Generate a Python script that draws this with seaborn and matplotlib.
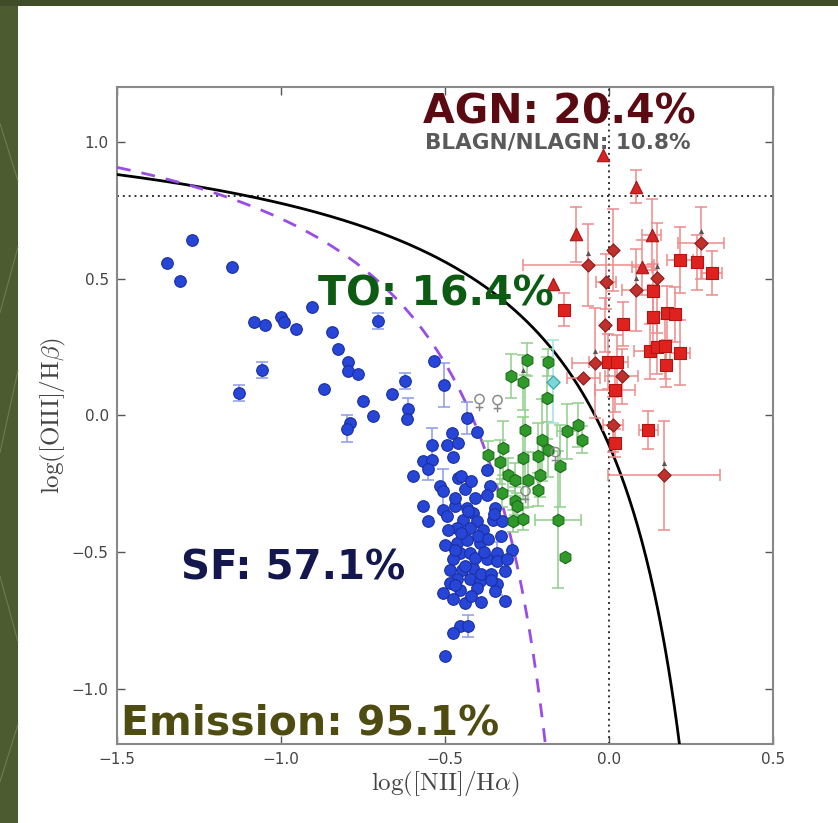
import numpy as np
import pandas as pd
import matplotlib
matplotlib.use("Agg")
import matplotlib.pyplot as plt
import seaborn as sns
from matplotlib.patches import Rectangle
from matplotlib.lines import Line2D

# ---------------- data ----------------
# star-forming galaxies
sf_x = [-1.348, -1.308, -1.271, -1.149, -1.082, -1.049, -1.000, -0.991, -0.954, -0.905,
        -1.058, -1.128, -0.869, -0.845, -0.826, -0.796, -0.796, -0.765, -0.750, -0.720,
        -0.704, -0.662, -0.622, -0.613, -0.616, -0.790, -0.799, -0.534, -0.503, -0.540,
        -0.494, -0.434, -0.403, -0.480, -0.459, -0.475, -0.566, -0.541, -0.551, -0.597,
        -0.459, -0.373, -0.515, -0.505, -0.363, -0.373, -0.566, -0.551, -0.505, -0.470,
        -0.434, -0.414, -0.495, -0.444, -0.403, -0.353, -0.464, -0.424, -0.383, -0.500,
        -0.464, -0.434, -0.393, -0.342, -0.297, -0.454, -0.424, -0.475, -0.373, -0.342,
        -0.312, -0.485, -0.449, -0.414, -0.317, -0.464, -0.424, -0.393, -0.485, -0.342,
        -0.454, -0.403, -0.505, -0.348, -0.475, -0.439, -0.317, -0.454, -0.429, -0.475,
        -0.500, -0.327, -0.348, -0.470, -0.440, -0.410, -0.490, -0.450, -0.400, -0.370,
        -0.470, -0.410, -0.380, -0.440, -0.390, -0.360, -0.470, -0.420, -0.390, -0.360,
        -0.430, -0.450, -0.420, -0.330, -0.350]
sf_y = [0.558, 0.493, 0.642, 0.543, 0.342, 0.331, 0.361, 0.342, 0.317, 0.397,
        0.167, 0.083, 0.098, 0.306, 0.244, 0.196, 0.164, 0.153, 0.054, -0.001,
        0.346, 0.080, 0.127, 0.025, -0.012, -0.026, -0.048, 0.200, 0.112, -0.107,
        -0.107, -0.009, -0.062, -0.064, -0.100, -0.151, -0.168, -0.161, -0.195, -0.222,
        -0.228, -0.200, -0.259, -0.277, -0.259, -0.289, -0.329, -0.386, -0.344, -0.332,
        -0.338, -0.356, -0.368, -0.380, -0.386, -0.380, -0.411, -0.411, -0.417, -0.472,
        -0.465, -0.453, -0.465, -0.502, -0.490, -0.502, -0.502, -0.526, -0.526, -0.532,
        -0.526, -0.563, -0.563, -0.557, -0.569, -0.599, -0.599, -0.605, -0.611, -0.617,
        -0.636, -0.630, -0.648, -0.642, -0.672, -0.684, -0.678, -0.770, -0.770, -0.794,
        -0.877, -0.386, -0.338, -0.300, -0.270, -0.300, -0.420, -0.430, -0.440, -0.450,
        -0.490, -0.520, -0.500, -0.550, -0.580, -0.580, -0.620, -0.660, -0.680, -0.600,
        -0.350, -0.220, -0.240, -0.440, -0.360]
sf_yerr = [0, 0, 0, 0, 0, 0, 0, 0, 0, 0,
           0.03, 0.03, 0, 0, 0, 0, 0, 0, 0, 0,
           0.03, 0, 0.03, 0.04, 0, 0, 0.05, 0, 0.08, 0.06,
           0, 0.06, 0, 0, 0, 0, 0, 0, 0.04, 0,
           0, 0, 0, 0.08, 0, 0, 0, 0, 0, 0,
           0, 0, 0, 0, 0, 0, 0, 0, 0, 0,
           0, 0, 0, 0.04, 0, 0, 0, 0, 0, 0,
           0, 0, 0, 0, 0, 0, 0, 0, 0, 0.04,
           0, 0, 0, 0, 0, 0, 0, 0, 0.04, 0,
           0, 0, 0, 0, 0, 0, 0, 0, 0, 0,
           0, 0, 0, 0, 0, 0, 0, 0, 0, 0,
           0, 0, 0, 0, 0]

# transition objects
to_x = [-0.249, -0.185, -0.299, -0.261, -0.190, -0.256, -0.129, -0.094, -0.083, -0.205,
        -0.322, -0.185, -0.368, -0.263, -0.217, -0.332, -0.149, -0.307, -0.287, -0.246,
        -0.210, -0.327, -0.216, -0.287, -0.281, -0.292, -0.261, -0.155, -0.134]
to_y = [0.204, 0.194, 0.143, 0.121, 0.064, -0.052, -0.058, -0.034, -0.088, -0.088,
        -0.119, -0.125, -0.143, -0.155, -0.149, -0.171, -0.186, -0.216, -0.234, -0.234,
        -0.216, -0.283, -0.271, -0.313, -0.332, -0.386, -0.378, -0.380, -0.516]
to_yerr = [0.06, 0.05, 0.08, 0.10, 0.15, 0.20, 0.10, 0.08, 0.05, 0.15,
           0.10, 0.10, 0.05, 0.15, 0.12, 0.08, 0.15, 0.06, 0.06, 0.10,
           0.08, 0.05, 0.06, 0.05, 0.05, 0.04, 0.04, 0.25, 0.0]
to_xerr = [0, 0, 0, 0, 0, 0, 0.03, 0, 0, 0,
           0, 0, 0, 0, 0, 0, 0, 0, 0, 0,
           0, 0, 0, 0, 0, 0, 0, 0.07, 0]

# composite object with uncertain class
cyan_x = [-0.170]
cyan_y = [0.124]
cyan_yerr = [0.15]

# upper-limit sources
lim_x = [-0.395, -0.342, -0.165, -0.256]
lim_y = [0.051, 0.046, -0.143, -0.285]

# AGN: triangles (broad-line), diamonds, squares
agn_tri_x = [-0.017, 0.081, -0.101, 0.130, 0.100, -0.172]
agn_tri_y = [0.952, 0.836, 0.662, 0.660, 0.541, 0.481]
agn_tri_yerr = [0.0, 0.06, 0.10, 0.13, 0.10, 0.0]
agn_tri_xerr = [0.0, 0.0, 0.0, 0.03, 0.03, 0.0]

agn_dia_x = [0.280, 0.013, -0.063, 0.145, -0.010, 0.081, -0.012, -0.043, -0.078, 0.013, 0.168, 0.039]
agn_dia_y = [0.630, 0.605, 0.550, 0.502, 0.489, 0.459, 0.331, 0.192, 0.137, -0.034, -0.219, 0.143]
agn_dia_yerr = [0.13, 0.15, 0.15, 0.20, 0.10, 0.15, 0.10, 0.20, 0.0, 0.10, 0.20, 0.10]
agn_dia_xerr = [0.07, 0.0, 0.20, 0.0, 0.03, 0.04, 0.0, 0.07, 0.05, 0.03, 0.17, 0.05]

agn_sq_x = [0.216, 0.313, -0.137, 0.044, 0.135, 0.176, 0.201, 0.125, 0.145, 0.171,
            0.216, 0.174, -0.002, 0.023, 0.018, 0.120, 0.018, 0.269, 0.135]
agn_sq_y = [0.569, 0.520, 0.386, 0.334, 0.358, 0.374, 0.370, 0.234, 0.252, 0.255,
            0.230, 0.185, 0.197, 0.195, 0.094, -0.052, -0.100, 0.560, 0.453]
agn_sq_yerr = [0.12, 0.08, 0.06, 0.08, 0.12, 0.10, 0.10, 0.10, 0.10, 0.12,
               0.12, 0.08, 0.10, 0.10, 0.08, 0.07, 0.05, 0.10, 0.10]
agn_sq_xerr = [0.04, 0.03, 0.0, 0.0, 0.0, 0.0, 0.0, 0.05, 0.0, 0.0,
               0.03, 0.0, 0.06, 0.0, 0.06, 0.03, 0.0, 0.0, 0.0]

# sources flagged with a lower limit
flag_x = [0.280, -0.063, 0.145, 0.081, -0.043, 0.168, -0.261]
flag_y = [0.630, 0.550, 0.502, 0.459, 0.192, -0.219, 0.121]

# demarcation curves (Kewley et al. 2001; Kauffmann et al. 2003)
kewley_coef = [0.61, 0.47, 1.19]
kauff_coef = [0.61, 0.05, 1.30]

labels = {
    "agn": "AGN: 20.4%",
    "blagn": "BLAGN/NLAGN: 10.8%",
    "to": "TO: 16.4%",
    "sf": "SF: 57.1%",
    "em": "Emission: 95.1%",
}

# ---------------- figure ----------------
sns.set_style("ticks")
plt.rcParams["font.family"] = ["DejaVu Sans"]
plt.rcParams["mathtext.fontset"] = "cm"

fig = plt.figure(figsize=(8.38, 8.23), dpi=100)
fig.patch.set_facecolor("white")

# slide border
fig.patches.append(Rectangle((0, 0), 18 / 838, 1, transform=fig.transFigure,
                             facecolor="#4c5b30", edgecolor="none", zorder=0))
fig.patches.append(Rectangle((0, 1 - 6 / 823), 1, 6 / 823, transform=fig.transFigure,
                             facecolor="#414d28", edgecolor="none", zorder=0))
for (y0, y1) in [(0.05, 0.12), (0.30, 0.22), (0.45, 0.55), (0.62, 0.70), (0.85, 0.78)]:
    fig.lines.append(Line2D([0, 18 / 838], [y0, y1], transform=fig.transFigure,
                            color="#7d8c5a", lw=0.8, alpha=0.7))

ax = fig.add_axes([117 / 838, 79 / 823, 656 / 838, 657 / 823])

# curves
xk = np.linspace(-1.5, 0.225, 400)
yk = kewley_coef[0] / (xk - kewley_coef[1]) + kewley_coef[2]
xa = np.linspace(-1.5, -0.185, 400)
ya = kauff_coef[0] / (xa - kauff_coef[1]) + kauff_coef[2]
sns.lineplot(x=xk, y=yk, ax=ax, color="black", lw=2, sort=False, zorder=3)
sns.lineplot(x=xa, y=ya, ax=ax, color="#9a4ce6", lw=2, sort=False, zorder=3,
             linestyle=(0, (5, 4)))

ax.axhline(0.8, color="#333333", ls=(0, (1, 2)), lw=1.4, zorder=2)
ax.axvline(0.0, color="#333333", ls=(0, (1, 2)), lw=1.4, zorder=2)


def ebar(x, y, xe, ye, color):
    """Draw only the error bars that are non-zero."""
    x = np.asarray(x)
    y = np.asarray(y)
    xe = np.asarray(xe, dtype=float)
    ye = np.asarray(ye, dtype=float)
    m = (xe > 0) | (ye > 0)
    if m.any():
        ax.errorbar(x[m], y[m], xerr=np.where(xe[m] > 0, xe[m], np.nan),
                    yerr=np.where(ye[m] > 0, ye[m], np.nan), fmt="none",
                    ecolor=color, elinewidth=1.1, capsize=4, capthick=1.1, zorder=4)


ebar(sf_x, sf_y, np.zeros(len(sf_x)), sf_yerr, "#8c9be8")
ebar(to_x, to_y, to_xerr, to_yerr, "#8fd08a")
ebar(cyan_x, cyan_y, [0], cyan_yerr, "#9fe3e3")
ebar(agn_tri_x, agn_tri_y, agn_tri_xerr, agn_tri_yerr, "#ee8a8a")
ebar(agn_dia_x, agn_dia_y, agn_dia_xerr, agn_dia_yerr, "#ee8a8a")
ebar(agn_sq_x, agn_sq_y, agn_sq_xerr, agn_sq_yerr, "#ee8a8a")

# markers
sns.scatterplot(x=sf_x, y=sf_y, ax=ax, color="#2746d8", edgecolor="#1a2fa0",
                s=70, linewidth=0.8, zorder=5)
sns.scatterplot(x=to_x, y=to_y, ax=ax, color="#2f9a2a", edgecolor="#1d6b1a",
                marker="h", s=80, linewidth=0.8, zorder=5)
sns.scatterplot(x=cyan_x, y=cyan_y, ax=ax, color="#7fd6d6", edgecolor="#3fb0b0",
                marker="D", s=45, linewidth=1, zorder=5)
sns.scatterplot(x=lim_x, y=lim_y, ax=ax, color="#888888", marker="$\u2640$",
                s=160, linewidth=0, zorder=5)
sns.scatterplot(x=agn_sq_x, y=agn_sq_y, ax=ax, color="#e0221e", edgecolor="#b01414",
                marker="s", s=80, linewidth=0.8, zorder=5)
sns.scatterplot(x=agn_dia_x, y=agn_dia_y, ax=ax, color="#c0302c", edgecolor="#8c1a18",
                marker="D", s=45, linewidth=0.8, zorder=5)
sns.scatterplot(x=agn_tri_x, y=agn_tri_y, ax=ax, color="#d42424", edgecolor="#a01616",
                marker="^", s=80, linewidth=0.8, zorder=5)
sns.scatterplot(x=np.asarray(flag_x), y=np.asarray(flag_y) + 0.045, ax=ax,
                color="#555555", marker="^", s=14, linewidth=0, zorder=6)

# classification fractions
ax.text(-0.150, 1.065, labels["agn"], color="#5c0a12", fontsize=29.5,
        fontweight="bold", ha="center", va="baseline", zorder=7)
ax.text(-0.155, 0.977, labels["blagn"], color="#5a5a5a", fontsize=15.5,
        fontweight="bold", ha="center", va="baseline", zorder=7)
ax.text(-0.529, 0.401, labels["to"], color="#0b5c12", fontsize=29.5,
        fontweight="bold", ha="center", va="baseline", zorder=7)
ax.text(-0.962, -0.599, labels["sf"], color="#14164e", fontsize=29,
        fontweight="bold", ha="center", va="baseline", zorder=7)
ax.text(-1.488, -1.165, labels["em"], color="#4f4c12", fontsize=29.5,
        fontweight="bold", ha="left", va="baseline", zorder=7)

ax.set_xlim(-1.5, 0.5)
ax.set_ylim(-1.2, 1.2)
ax.set_xticks([-1.5, -1.0, -0.5, 0.0, 0.5])
ax.set_yticks([-1.0, -0.5, 0.0, 0.5, 1.0])
ax.tick_params(direction="in", top=True, right=True, length=6, width=1,
               labelsize=11, labelcolor="#444444", color="#555555", pad=6)
for sp in ax.spines.values():
    sp.set_color("#888888")
    sp.set_linewidth(1.5)

ax.set_xlabel(r"$\mathrm{log([NII]/H}\alpha)$", fontsize=18, color="#444444", labelpad=2)
ax.set_ylabel(r"$\mathrm{log([OIII]/H}\beta)$", fontsize=18, color="#444444", labelpad=3)

fig.savefig("out.png", dpi=100)
